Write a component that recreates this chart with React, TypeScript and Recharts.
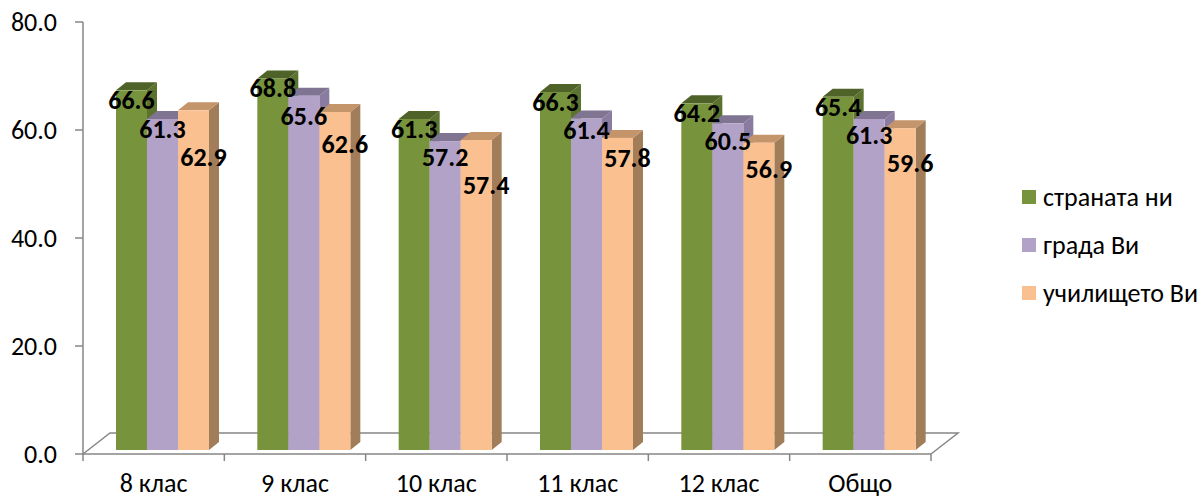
import React from 'react';
import { BarChart, Bar, XAxis, YAxis, Legend, LabelList, Customized } from 'recharts';

const categories = ['8 клас', '9 клас', '10 клас', '11 клас', '12 клас', 'Общо'];
const countryValues = [66.6, 68.8, 61.3, 66.3, 64.2, 65.4];
const cityValues = [61.3, 65.6, 57.2, 61.4, 60.5, 61.3];
const schoolValues = [62.9, 62.6, 57.4, 57.8, 56.9, 59.6];
const seriesNames = ['страната ни', 'града Ви', 'училището Ви'];
const yTicks = [0, 20, 40, 60, 80];

const data = categories.map((c, i) => ({
  name: c,
  country: countryValues[i],
  city: cityValues[i],
  school: schoolValues[i],
}));

const W = 1204;
const H = 497;
const PLOT = { left: 83, top: 22, right: 931, bottom: 454 };
const LEGEND_W = 182;
const SHIFT_X = 9;
const SHIFT_Y = -4;
const DEPTH_X = 10;
const DEPTH_Y = 8;
const FLOOR_DX = 27;
const FLOOR_DY = 21;
const LABEL_GAP = 10;
const LABEL_STEP = 28;
const AXIS = '#868686';
const FONT = 'Calibri, Carlito, "Open Sans", sans-serif';

const SERIES = [
  { key: 'country', name: seriesNames[0], front: '#77933C', top: '#4F6228', side: '#5C7330', labelDx: 0 },
  { key: 'city', name: seriesNames[1], front: '#B3A2C7', top: '#7F7491', side: '#8A7BA0', labelDx: 0 },
  { key: 'school', name: seriesNames[2], front: '#FAC090', top: '#C4946A', side: '#A27D5A', labelDx: 10 },
];

const make3D = (s: any) => (props: any) => {
  const { x, y, width, height } = props;
  if (x == null || y == null || !height) return <g />;
  const fx = x + SHIFT_X;
  const fy = y + SHIFT_Y;
  return (
    <g>
      <polygon
        points={`${fx + width},${fy} ${fx + width + DEPTH_X},${fy - DEPTH_Y} ${fx + width + DEPTH_X},${fy + height - DEPTH_Y} ${fx + width},${fy + height}`}
        fill={s.side}
      />
      <polygon
        points={`${fx},${fy} ${fx + width},${fy} ${fx + width + DEPTH_X},${fy - DEPTH_Y} ${fx + DEPTH_X},${fy - DEPTH_Y}`}
        fill={s.top}
      />
      <rect x={fx} y={fy} width={width} height={height} fill={s.front} />
    </g>
  );
};

// Labels cascade downward within a group so they do not collide (as Excel lays them out).
const makeLabel = (seriesIndex: number) => (props: any) => {
  const { x, y, width, height, value, index } = props;
  if (x == null || y == null || !value) return null;
  const row: any = data[index];
  const pxPerUnit = height / value;
  let labelY = 0;
  for (let k = 0; k <= seriesIndex; k++) {
    const v = row[SERIES[k].key];
    const topK = y + (value - v) * pxPerUnit + SHIFT_Y;
    labelY = k === 0 ? topK + LABEL_GAP : Math.max(topK + LABEL_GAP, labelY + LABEL_STEP);
  }
  return (
    <text
      x={x + SHIFT_X + width / 2 + SERIES[seriesIndex].labelDx}
      y={labelY}
      textAnchor="middle"
      dominantBaseline="central"
      fontFamily={FONT}
      fontWeight={700}
      fontSize={26}
      fill="#000"
    >
      {Number(value).toFixed(1)}
    </text>
  );
};

const Floor = () => {
  const L = PLOT.left;
  const R = PLOT.right;
  const B = PLOT.bottom;
  const band = (R - L) / categories.length;
  const ticks = [];
  for (let i = 0; i <= categories.length; i++) {
    const tx = L + band * i;
    ticks.push(<line key={i} x1={tx} y1={B} x2={tx} y2={B + 7} />);
  }
  return (
    <g stroke={AXIS} strokeWidth={1.5} fill="none">
      <polyline points={`${L},${B} ${L + FLOOR_DX},${B - FLOOR_DY} ${R + FLOOR_DX},${B - FLOOR_DY} ${R},${B}`} />
      {ticks}
    </g>
  );
};

const renderLegend = () => (
  <div style={{ fontFamily: FONT, fontSize: 26, color: '#000', lineHeight: 1 }}>
    {SERIES.map((s) => (
      <div key={s.key} style={{ display: 'flex', alignItems: 'center', height: 48 }}>
        <span style={{ display: 'inline-block', width: 14, height: 14, background: s.front, marginRight: 7, flex: 'none' }} />
        <span style={{ whiteSpace: 'nowrap' }}>{s.name}</span>
      </div>
    ))}
  </div>
);

export default function App() {
  return (
    <div style={{ position: 'absolute', left: 0, top: 0, width: W, height: H, background: '#fff' }}>
      <BarChart
        width={W}
        height={H}
        data={data}
        margin={{ top: PLOT.top, left: 0, right: W - PLOT.right - LEGEND_W, bottom: 0 }}
        barGap={0}
        barSize={31}
      >
        <Customized component={<Floor />} />
        <XAxis
          dataKey="name"
          height={H - PLOT.bottom}
          axisLine={{ stroke: AXIS, strokeWidth: 1.5 }}
          tickLine={false}
          tickSize={0}
          tickMargin={20}
          interval={0}
          tick={{ fill: '#000', fontSize: 26, fontFamily: FONT }}
        />
        <YAxis
          width={PLOT.left}
          domain={[0, 80]}
          ticks={yTicks}
          interval={0}
          axisLine={{ stroke: AXIS, strokeWidth: 1.5 }}
          tickLine={{ stroke: AXIS, strokeWidth: 1.5 }}
          tickSize={8}
          tickMargin={18}
          tickFormatter={(v: number) => v.toFixed(1)}
          tick={{ fill: '#000', fontSize: 26, fontFamily: FONT }}
        />
        <Legend
          layout="vertical"
          align="right"
          verticalAlign="middle"
          content={renderLegend}
          wrapperStyle={{ left: 1022, top: 173, width: LEGEND_W }}
        />
        {SERIES.map((s, si) => (
          <Bar key={s.key} dataKey={s.key} name={s.name} fill={s.front} shape={make3D(s)} isAnimationActive={false}>
            <LabelList dataKey={s.key} content={makeLabel(si)} />
          </Bar>
        ))}
      </BarChart>
    </div>
  );
}
